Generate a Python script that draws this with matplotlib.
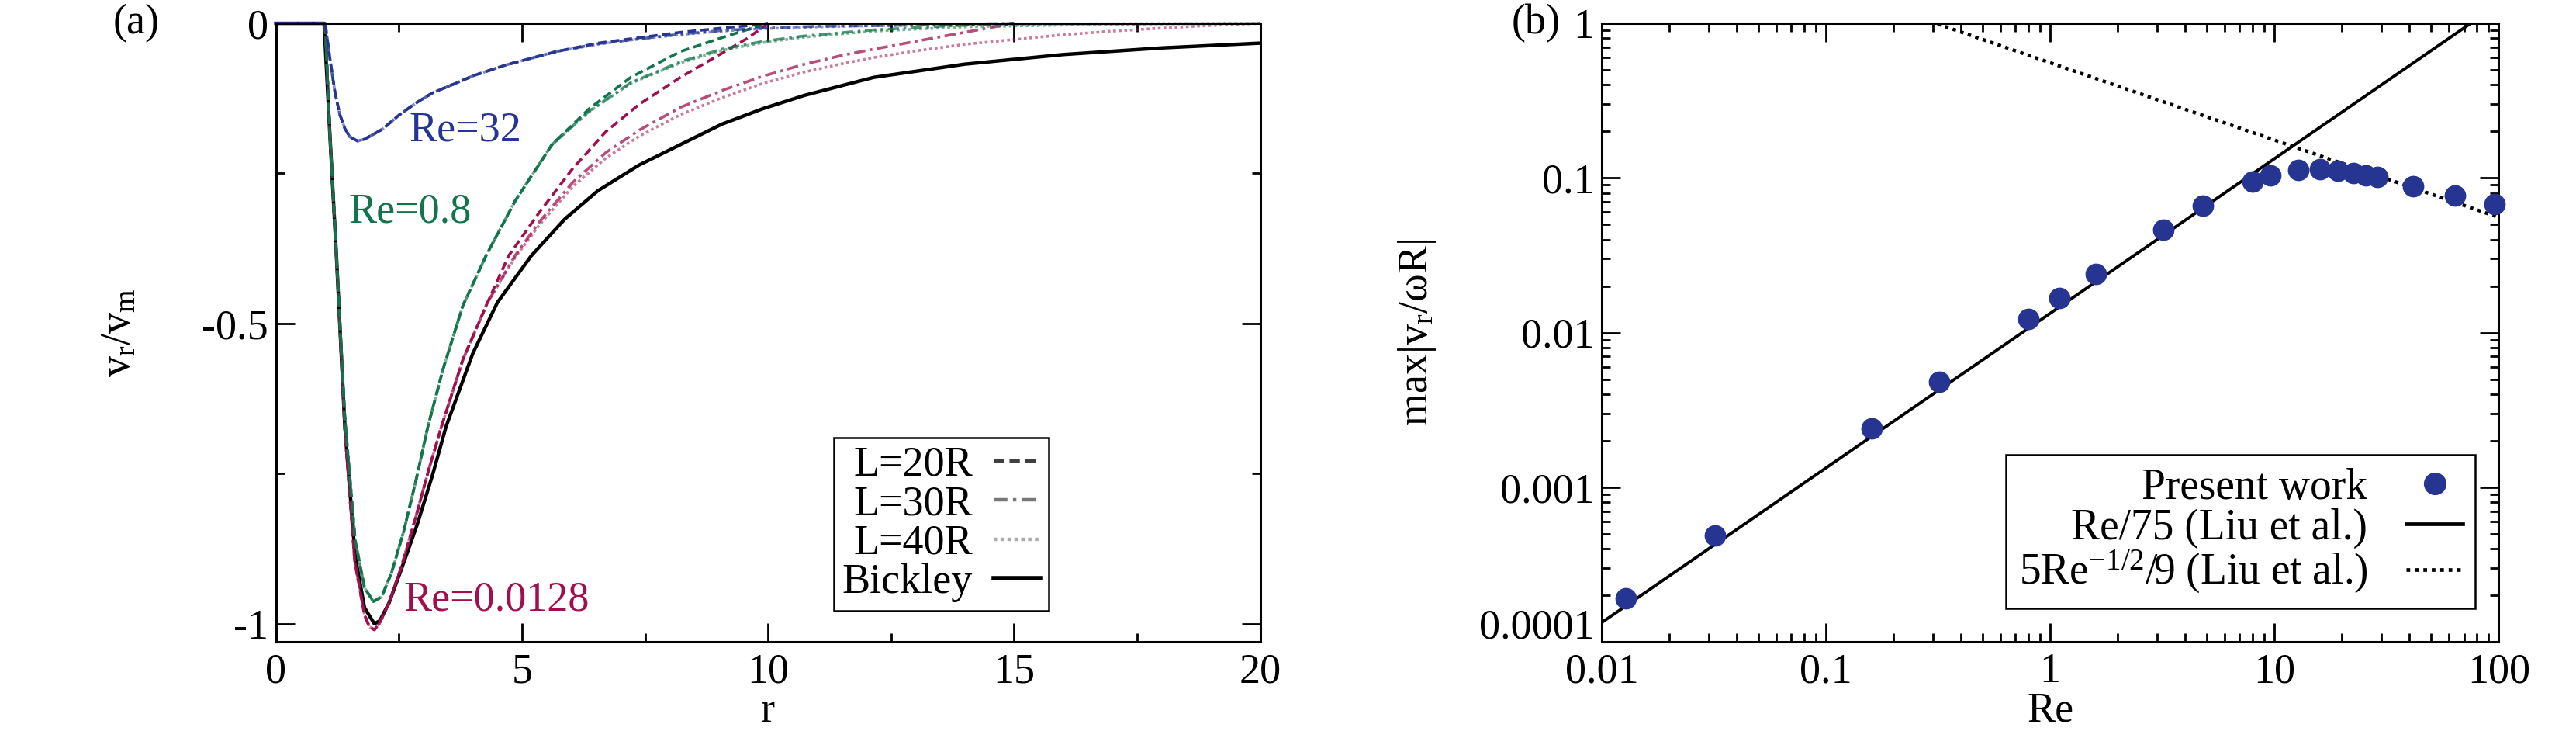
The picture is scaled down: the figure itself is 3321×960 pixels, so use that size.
import matplotlib
matplotlib.use('Agg')
import matplotlib.pyplot as plt
from matplotlib.lines import Line2D
from matplotlib.ticker import FuncFormatter, MultipleLocator

plt.rcParams['font.family'] = ['Liberation Serif', 'DejaVu Serif']
plt.rcParams['mathtext.default'] = 'regular'
plt.rcParams['axes.unicode_minus'] = False

FS = 39
BLUE = '#263591'
GREEN = '#12744a'
CRIMSON = '#a0104f'

# ---------------- panel (a): v_r / v_m against r ----------------
bickley_r = [0, 0.98, 1.1, 1.23, 1.4, 1.61, 1.8, 2.0, 2.11, 2.3, 2.55, 2.87, 3.18, 3.46,
             4.0, 4.5, 5.19, 5.87, 6.54, 7.38, 8.22, 9.06, 9.9, 10.74, 12.15, 14, 16, 18, 20]
bickley_v = [0, 0, -0.19, -0.387, -0.67, -0.887, -0.973, -1.0, -0.995, -0.965, -0.909, -0.835,
             -0.753, -0.671, -0.55, -0.465, -0.387, -0.326, -0.279, -0.236, -0.202, -0.168,
             -0.142, -0.120, -0.090, -0.068, -0.052, -0.041, -0.033]

# Re = 32 (the three domain lengths share the near field)
re32_core_r = [0, 1.0, 1.1, 1.2, 1.3, 1.4, 1.5, 1.66, 1.8, 2.0, 2.17, 2.5, 2.84, 3.18, 3.68, 4.02, 4.69, 5.7]
re32_core_v = [0, 0, -0.06, -0.115, -0.152, -0.175, -0.189, -0.196, -0.193, -0.184, -0.176, -0.153,
               -0.133, -0.116, -0.099, -0.087, -0.069, -0.047]
re32_l20_r = [6.54, 7.38, 8.22, 9.06, 9.6, 10.0]
re32_l20_v = [-0.033, -0.024, -0.015, -0.008, -0.004, 0]
re32_l30_r = [6.54, 7.38, 8.22, 9.06, 9.9, 11, 12.15, 13.5, 15]
re32_l30_v = [-0.034, -0.026, -0.018, -0.012, -0.008, -0.005, -0.004, -0.002, 0]
re32_l40_r = [6.54, 7.38, 8.22, 9.06, 9.9, 11, 12.15, 14, 16, 18, 20]
re32_l40_v = [-0.035, -0.026, -0.019, -0.013, -0.009, -0.006, -0.004, -0.002, -0.001, -0.0005, 0]

# Re = 0.8
re08_core_r = [0, 1.0, 1.1, 1.23, 1.4, 1.61, 1.8, 1.98, 2.15, 2.35, 2.6, 2.85, 3.09, 3.4, 3.8, 4.27, 4.86, 5.61]
re08_core_v = [0, 0, -0.19, -0.385, -0.655, -0.86, -0.94, -0.963, -0.955, -0.915, -0.845, -0.76,
               -0.671, -0.575, -0.47, -0.387, -0.296, -0.202]
re08_l20_r = [6.37, 7.21, 8.22, 9.06, 9.6, 10.0]
re08_l20_v = [-0.142, -0.090, -0.047, -0.024, -0.01, 0]
re08_l30_r = [6.37, 7.21, 8.22, 9.06, 9.9, 10.74, 12.15, 13.5, 15]
re08_l30_v = [-0.146, -0.099, -0.064, -0.043, -0.030, -0.021, -0.011, -0.005, 0]
re08_l40_r = [6.37, 7.21, 8.22, 9.06, 9.9, 10.74, 12.15, 14, 16, 18, 20]
re08_l40_v = [-0.147, -0.100, -0.066, -0.045, -0.032, -0.023, -0.013, -0.006, -0.003, -0.001, 0]

# Re = 0.0128
re0128_core_r = [0, 1.0, 1.1, 1.23, 1.4, 1.6, 1.8, 1.9, 2.0, 2.1, 2.3, 2.55, 2.85, 3.1, 3.37, 3.8, 4.3]
re0128_core_v = [0, 0, -0.19, -0.39, -0.675, -0.895, -0.985, -1.005, -1.01, -1.0, -0.965, -0.905,
                 -0.82, -0.745, -0.67, -0.56, -0.465]
re0128_l20_r = [4.73, 5.36, 6.03, 6.71, 7.38, 8.22, 9.06, 9.6, 10.0]
re0128_l20_v = [-0.387, -0.314, -0.242, -0.18, -0.135, -0.09, -0.05, -0.024, 0]
re0128_l30_r = [4.86, 5.36, 6.03, 6.71, 7.38, 8.22, 9.06, 9.9, 10.74, 11.58, 12.15, 13, 14, 15]
re0128_l30_v = [-0.387, -0.33, -0.265, -0.215, -0.178, -0.14, -0.112, -0.088, -0.068, -0.052,
                -0.043, -0.03, -0.015, 0]
re0128_l40_r = [4.86, 5.36, 6.03, 6.71, 7.38, 8.22, 9.06, 9.9, 10.74, 11.58, 12.15, 13, 14, 15,
                16, 17, 18, 19, 20]
re0128_l40_v = [-0.39, -0.335, -0.272, -0.224, -0.188, -0.152, -0.124, -0.1, -0.081, -0.066,
                -0.057, -0.046, -0.035, -0.027, -0.019, -0.013, -0.008, -0.0035, 0]

# ---------------- panel (b): max|v_r / wR| against Re ----------------
present_re = [0.0128, 0.032, 0.16, 0.32, 0.8, 1.1, 1.6, 3.2, 4.8, 8, 9.6, 12.8, 16, 19.2,
              22.4, 25.6, 28.8, 41.6, 64, 96]
present_v = [1.9e-4, 4.9e-4, 2.4e-3, 4.8e-3, 0.0122, 0.0168, 0.024, 0.0464, 0.0663, 0.095,
             0.104, 0.113, 0.114, 0.111, 0.108, 0.104, 0.101, 0.0885, 0.077, 0.068]
liu_lin_re = [0.01, 100]
liu_lin_v = [1.333e-4, 1.333]
liu_sqrt_re = [0.25, 100]
liu_sqrt_v = [1.111, 0.0556]

# line styles for the three domain lengths
L_STYLES = {
    'L=20R': dict(ls=(0, (3, 1.6)), alpha=1.0, gray='#404040'),
    'L=30R': dict(ls=(0, (4, 1.6, 1, 1.6)), alpha=0.75, gray='#777777'),
    'L=40R': dict(ls=(0, (1, 1)), alpha=0.55, gray='#aaaaaa'),
}


def style_axis(ax):
    ax.tick_params(which='both', direction='in', top=True, right=True,
                   labelsize=FS, width=2)
    ax.tick_params(which='major', length=17)
    ax.tick_params(axis='x', which='major', pad=10)
    ax.tick_params(axis='y', which='major', pad=7)
    ax.tick_params(which='minor', length=8)
    for sp in ax.spines.values():
        sp.set_linewidth(2.2)


def draw_family(ax, color, core_r, core_v, tails):
    for name, (tr, tv) in zip(['L=20R', 'L=30R', 'L=40R'], tails):
        st = L_STYLES[name]
        ax.plot(core_r + tr, core_v + tv, color=color, lw=2.6, ls=st['ls'],
                alpha=st['alpha'], clip_on=False)


def plain_label(v, pos):
    return '%g' % v


def plain_label_skip_bottom(v, pos):
    # the lowest decade label is placed by hand so it clears the x labels
    if v < 2e-4:
        return ''
    return '%g' % v


fig = plt.figure(figsize=(33.21, 9.6), dpi=100)

# ---- (a) ----
ax1 = fig.add_axes([0.1071, 0.1385, 0.3821, 0.8302])
ax1.plot(bickley_r, bickley_v, color='black', lw=3.2, clip_on=False)
draw_family(ax1, CRIMSON, re0128_core_r, re0128_core_v,
            [(re0128_l20_r, re0128_l20_v), (re0128_l30_r, re0128_l30_v), (re0128_l40_r, re0128_l40_v)])
draw_family(ax1, GREEN, re08_core_r, re08_core_v,
            [(re08_l20_r, re08_l20_v), (re08_l30_r, re08_l30_v), (re08_l40_r, re08_l40_v)])
draw_family(ax1, BLUE, re32_core_r, re32_core_v,
            [(re32_l20_r, re32_l20_v), (re32_l30_r, re32_l30_v), (re32_l40_r, re32_l40_v)])

ax1.text(2.71, -0.178, 'Re=32', color=BLUE, fontsize=FS, ha='left', va='center')
ax1.text(1.48, -0.314, 'Re=0.8', color=GREEN, fontsize=FS, ha='left', va='center')
ax1.text(2.6, -0.96, 'Re=0.0128', color=CRIMSON, fontsize=FS, ha='left', va='center')

ax1.set_xlim(0, 20)
ax1.set_ylim(-1.03, 0)
ax1.xaxis.set_major_locator(MultipleLocator(5))
ax1.xaxis.set_minor_locator(MultipleLocator(2.5))
ax1.yaxis.set_major_locator(MultipleLocator(0.5))
ax1.yaxis.set_minor_locator(MultipleLocator(0.25))
ax1.yaxis.set_major_formatter(FuncFormatter(plain_label))
style_axis(ax1)
ax1.set_xlabel('r', fontsize=FS, labelpad=0)
ax1.set_ylabel('v$_r$/v$_m$', fontsize=FS)
ax1.yaxis.set_label_coords(-0.139, 0.5)

handles_a = [Line2D([], [], color=L_STYLES[k]['gray'], lw=3.2, ls=L_STYLES[k]['ls']) for k in L_STYLES]
handles_a.append(Line2D([], [], color='black', lw=4))
leg_a = ax1.legend(handles_a, list(L_STYLES) + ['Bickley'], loc='lower right',
                   bbox_to_anchor=(0.785, 0.05), borderaxespad=0, fontsize=FS,
                   markerfirst=False, frameon=True, fancybox=False, framealpha=1,
                   edgecolor='black', borderpad=0.2, labelspacing=0.0,
                   handlelength=1.1, handletextpad=0.5)
leg_a.get_frame().set_linewidth(1.8)

# ---- (b) ----
ax2 = fig.add_axes([0.6218, 0.1385, 0.3482, 0.8302])
ax2.plot(liu_lin_re, liu_lin_v, color='black', lw=2.8)
ax2.plot(liu_sqrt_re, liu_sqrt_v, color='black', lw=3.2, ls=(0, (1, 1.3)))
ax2.plot(present_re, present_v, 'o', color=BLUE, ms=20, mec='none', clip_on=False, zorder=3)
ax2.set_xscale('log')
ax2.set_yscale('log')
ax2.set_xlim(0.01, 100)
ax2.set_ylim(1e-4, 1)
ax2.xaxis.set_major_formatter(FuncFormatter(plain_label))
ax2.yaxis.set_major_formatter(FuncFormatter(plain_label_skip_bottom))
style_axis(ax2)
ax2.annotate('0.0001', xy=(0, 0), xycoords='axes fraction', xytext=(-7, 13),
             textcoords='offset points', ha='right', va='center', fontsize=FS)
ax2.set_xlabel('Re', fontsize=FS, labelpad=0)
ax2.set_ylabel('max|v$_r$/ωR|', fontsize=FS)
ax2.yaxis.set_label_coords(-0.1825, 0.5)

handles_b = [Line2D([], [], ls='none', marker='o', color=BLUE, ms=21, mec='none'),
             Line2D([], [], color='black', lw=3.4),
             Line2D([], [], color='black', lw=3.4, ls=(0, (1, 1.3)))]
labels_b = ['Present work', 'Re/75 (Liu et al.)', '5Re$^{-1/2}$/9 (Liu et al.)']
leg_b = ax2.legend(handles_b, labels_b, loc='lower right', bbox_to_anchor=(0.974, 0.054),
                   borderaxespad=0, fontsize=40, markerfirst=False, frameon=True,
                   fancybox=False, framealpha=1, edgecolor='black', borderpad=0.3,
                   labelspacing=0.0, handlelength=1.3, handletextpad=0.9, numpoints=1)
leg_b.get_frame().set_linewidth(1.8)

fig.text(0.053, 1 - 30 / 960, '(a)', fontsize=FS, ha='center', va='center')
fig.text(0.5963, 1 - 30 / 960, '(b)', fontsize=FS, ha='center', va='center')

fig.savefig('out.png', dpi=100)
